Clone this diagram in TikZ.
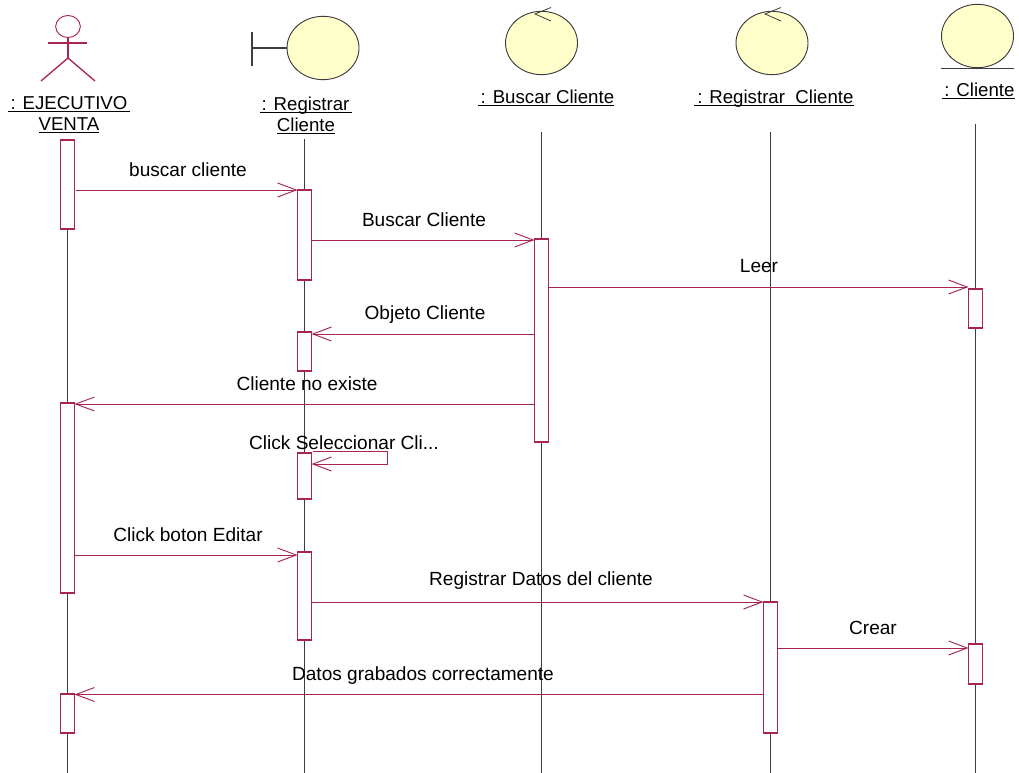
\documentclass[tikz,border=0pt]{standalone}
\usepackage{fontspec}
\setmainfont{Liberation Sans}
\usetikzlibrary{arrows.meta,shapes.geometric}
\definecolor{umlred}{RGB}{170,35,85}
\definecolor{umlfill}{RGB}{255,255,204}
\definecolor{umlline}{RGB}{64,60,60}
\newcommand{\ulx}[1]{\underline{\smash{#1}}}
\tikzset{
  x=0.75pt,y=-0.75pt,
  bar/.style={draw=umlred,fill=white,line width=0.8pt,minimum width=10.5pt,inner sep=0pt,outer sep=0pt},
  lifeline/.style={draw=umlline,line width=0.55pt},
  msg/.style={draw=umlred,line width=0.7pt,-{Straight Barb[length=14pt,width=10.5pt,line width=0.7pt]}},
  lbl/.style={inner sep=0pt,font=\fontsize{14.3}{15.75}\selectfont,text=black},
  head/.style={inner sep=0pt,align=center,font=\fontsize{14}{15.75}\selectfont,text=black},
  ball/.style={draw=umlline,fill=umlfill,line width=0.7pt,ellipse,minimum width=54pt,minimum height=47.5pt,inner sep=0pt},
  glyph/.style={draw=umlline,line width=0.8pt},
  actor/.style={draw=umlred,line width=1pt},
}
\newcommand{\actbar}[4]{\node[bar,minimum height={(#4-#3)*0.75pt}] (#1) at (#2,{(#3+#4)/2}) {};}
\begin{document}
\begin{tikzpicture}
\useasboundingbox (0,0) rectangle (1019,773);
% lifelines
\coordinate (t1) at (67.5,139); \coordinate (e1) at (67.5,773);
\coordinate (t2) at (304.5,139); \coordinate (e2) at (304.5,773);
\coordinate (t3) at (541.5,132); \coordinate (e3) at (541.5,773);
\coordinate (t4) at (770.5,132); \coordinate (e4) at (770.5,773);
\coordinate (t5) at (975.5,124); \coordinate (e5) at (975.5,773);
\foreach \i in {1,...,5} \draw[lifeline] (t\i) -- (e\i);
% actor
\node[draw=umlred,line width=0.7pt,ellipse,minimum width=18.5pt,minimum height=16.5pt,inner sep=0pt] (ahead) at (68,26.5) {};
\coordinate (hip) at (68,58);
\coordinate (armL) at (48,43); \coordinate (armR) at (87,43);
\coordinate (legL) at (41,81); \coordinate (legR) at (95,81);
\draw[actor] (ahead.south) -- (hip);
\draw[actor] (armL) -- (armR);
\draw[actor] (legL) -- (hip) -- (legR);
% boundary
\node[ball] (bnd) at (323,48) {};
\coordinate (bndV) at (252,48);
\draw[glyph] (bnd.west) -- (bndV);
\draw[glyph] (252,32) -- (252,66);
% controls
\node[ball] (ctlA) at (541.5,43) {};
\draw[glyph,line width=0.6pt] (551,7.5) -- (535,14) -- (551,21);
\node[ball] (ctlB) at (772,43) {};
\draw[glyph,line width=0.6pt] (781,7.5) -- (765,14) -- (781,21);
% entity
\node[ball] (ent) at (977.5,36) {};
\draw[glyph] (941,68.5) -- (1014,68.5);
% headers
\node[head] (hA) at (69,121) {\ulx{\hspace{0.12em}: EJECUTIVO\hspace{0.12em}}\\[0pt]\ulx{VENTA}};
\node[head] (hB) at (306,122) {\ulx{\hspace{0.1em}: Registrar\hspace{0.15em}}\\[0pt]\ulx{Cliente}};
\node[head] (hC) at (546,105) {\ulx{\hspace{0.15em}: Buscar Cliente}};
\node[head] (hD) at (774,105) {\ulx{\hspace{0.15em}: Registrar\ \ Cliente}};
\node[head] (hE) at (978,98) {\ulx{\hspace{0.15em}: Cliente}};
% activations
\actbar{a1}{67.5}{140}{229}
\actbar{a2}{67.5}{403}{593}
\actbar{a3}{67.5}{694}{733}
\actbar{b1}{304.5}{190}{280}
\actbar{b2}{304.5}{332}{371}
\actbar{b3}{304.5}{453}{499}
\actbar{b4}{304.5}{552}{640}
\actbar{c1}{541.5}{239}{442}
\actbar{d1}{770.5}{602}{733}
\actbar{f1}{975.5}{289}{328}
\actbar{f2}{975.5}{644}{684}
% messages
\draw[msg] (75.5,190) -- (b1.west |- 0,190);
\draw[msg] (b1.east |- 0,240) -- (c1.west |- 0,240);
\draw[msg] (c1.east |- 0,287) -- (f1.west |- 0,287);
\draw[msg] (c1.west |- 0,334) -- (b2.east |- 0,334);
\draw[msg] (c1.west |- 0,404) -- (a2.east |- 0,404);
\coordinate (s1) at (387,451); \coordinate (s2) at (387,464);
\draw[msg] (312.5,451) -- (s1) -- (s2) -- (b3.east |- 0,464);
\draw[msg] (a2.east |- 0,555) -- (b4.west |- 0,555);
\draw[msg] (b4.east |- 0,602) -- (d1.west |- 0,602);
\draw[msg] (d1.east |- 0,648) -- (f2.west |- 0,648);
\draw[msg] (d1.west |- 0,694.5) -- (a3.east |- 0,694.5);
% labels
\node[lbl] (m1) at (188,170) {buscar cliente};
\node[lbl] (m2) at (424,219.5) {Buscar Cliente};
\node[lbl] (m3) at (759,266.5) {Leer};
\node[lbl] (m4) at (425,314.5) {Objeto Cliente};
\node[lbl] (m5) at (307,384) {Cliente no existe};
\node[lbl] (m6) at (344,443) {Click Seleccionar Cli...};
\node[lbl] (m7) at (188,535) {Click boton Editar};
\node[lbl] (m8) at (541,581) {Registrar Datos del cliente};
\node[lbl] (m9) at (873,628) {Crear};
\node[lbl] (m10) at (423,675.5) {Datos grabados correctamente};
\end{tikzpicture}
\end{document}
